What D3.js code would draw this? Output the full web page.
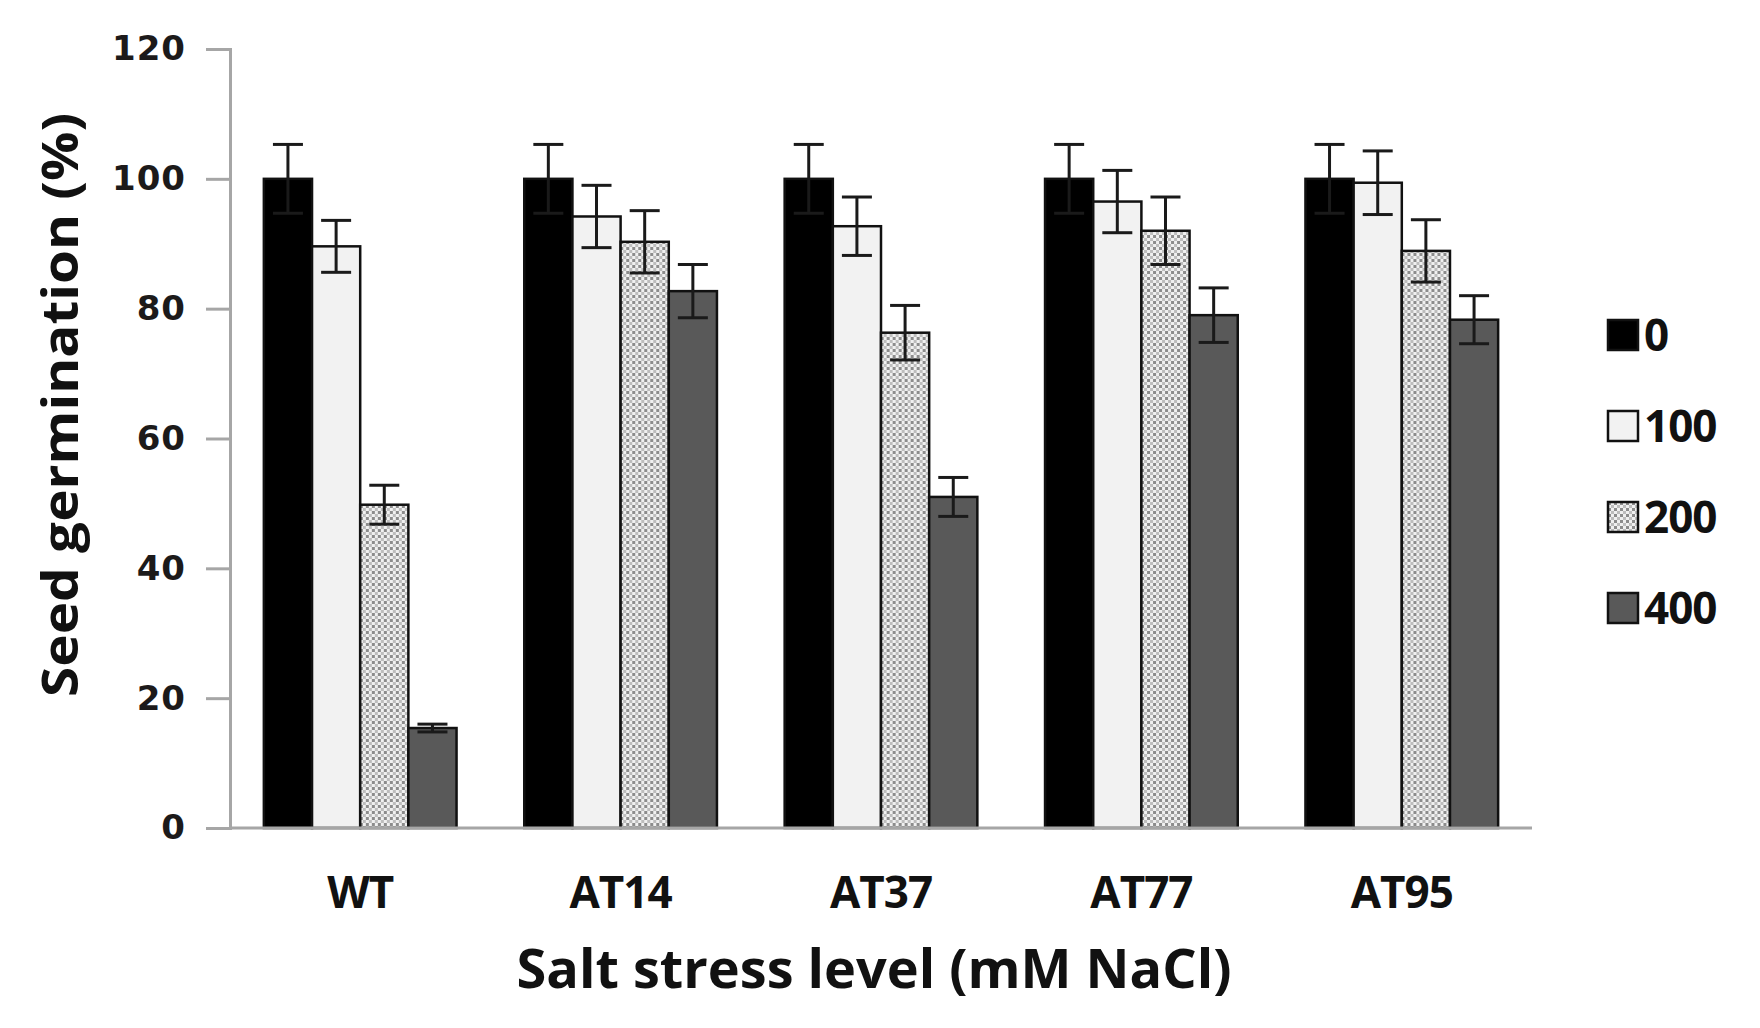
<!DOCTYPE html>
<html>
<head>
<meta charset="utf-8">
<script src="https://cdn.jsdelivr.net/npm/d3@7"></script>
<style>
  body { margin: 0; background: #fff; }
  svg { display: block; }
</style>
</head>
<body>
<svg id="chart" width="1760" height="1028"></svg>
<script>
// donnees
var lines = ["WT", "AT14", "AT37", "AT77", "AT95"];
var levels = ["0", "100", "200", "400"];
var val0   = [100, 100, 100, 100, 100];
var val100 = [89.6, 94.2, 92.7, 96.5, 99.4];
var val200 = [49.8, 90.3, 76.3, 92.0, 88.9];
var val400 = [15.4, 82.7, 51.0, 79.0, 78.3];
var err0   = [5.3, 5.3, 5.3, 5.3, 5.3];
var err100 = [4.0, 4.8, 4.5, 4.8, 4.9];
var err200 = [3.0, 4.8, 4.2, 5.2, 4.8];
var err400 = [0.6, 4.1, 3.0, 4.2, 3.7];
var yTicks = [0, 20, 40, 60, 80, 100, 120];

var values = [val0, val100, val200, val400];
var errors = [err0, err100, err200, err400];

var svg = d3.select("#chart"),
    margin = { top: 49, right: 228, bottom: 200, left: 230 },
    width = +svg.attr("width") - margin.left - margin.right,
    height = +svg.attr("height") - margin.top - margin.bottom;

// motif pointille pour la serie 200
var defs = svg.append("defs");
var pat = defs.append("pattern")
    .attr("id", "dots")
    .attr("patternUnits", "userSpaceOnUse")
    .attr("width", 6).attr("height", 6);
pat.append("rect").attr("width", 6).attr("height", 6).attr("fill", "#f0f0f0");
pat.append("rect").attr("x", 0).attr("y", 0).attr("width", 3).attr("height", 3).attr("fill", "#8c8c8c");
pat.append("rect").attr("x", 3).attr("y", 3).attr("width", 3).attr("height", 3).attr("fill", "#bdbdbd");

var fills = ["#000000", "#f2f2f2", "url(#dots)", "#595959"];

var x0 = d3.scaleBand().domain(lines).range([0, width]).paddingInner(0.26).paddingOuter(0.13);
var x1 = d3.scaleBand().domain(levels).range([0, x0.bandwidth()]);
var y = d3.scaleLinear().domain([0, 120]).range([height, 0]);

var g = svg.append("g")
    .attr("transform", "translate(" + margin.left + "," + margin.top + ")");

// axe y
var yAxis = g.append("g")
    .call(d3.axisLeft(y).tickValues(yTicks).tickSize(24).tickPadding(20));
yAxis.select(".domain").attr("stroke", "#a6a6a6").attr("stroke-width", 3);
yAxis.selectAll(".tick line").attr("stroke", "#a6a6a6").attr("stroke-width", 3);
yAxis.selectAll(".tick text")
    .attr("fill", "#1c1a1a")
    .style("font-family", "DejaVu Sans")
    .style("font-weight", "bold")
    .style("font-size", "34px")
    .style("letter-spacing", "1px");

// barres
var groups = g.selectAll(".grp")
    .data(lines)
    .enter().append("g")
    .attr("class", "grp")
    .attr("transform", function (d) { return "translate(" + x0(d) + ",0)"; });

levels.forEach(function (lev, k) {
    groups.append("rect")
        .attr("x", x1(lev))
        .attr("width", x1.bandwidth())
        .attr("y", function (d, i) { return y(values[k][i]); })
        .attr("height", function (d, i) { return height - y(values[k][i]); })
        .attr("fill", fills[k])
        .attr("stroke", "#111")
        .attr("stroke-width", 2.5);
});

// barres d'erreur
levels.forEach(function (lev, k) {
    var cx = x1(lev) + x1.bandwidth() / 2;
    var eb = groups.append("g").attr("stroke", "#1a1a1a").attr("stroke-width", 3);
    eb.append("line")
        .attr("x1", cx).attr("x2", cx)
        .attr("y1", function (d, i) { return y(values[k][i] + errors[k][i]); })
        .attr("y2", function (d, i) { return y(values[k][i] - errors[k][i]); });
    [1, -1].forEach(function (s) {
        eb.append("line")
            .attr("x1", cx - 15).attr("x2", cx + 15)
            .attr("y1", function (d, i) { return y(values[k][i] + s * errors[k][i]); })
            .attr("y2", function (d, i) { return y(values[k][i] + s * errors[k][i]); });
    });
});

// axe x
g.append("line")
    .attr("x1", 0).attr("x2", width)
    .attr("y1", height).attr("y2", height)
    .attr("stroke", "#a6a6a6").attr("stroke-width", 3);

g.selectAll(".xlab")
    .data(lines)
    .enter().append("text")
    .attr("class", "xlab")
    .attr("x", function (d) { return x0(d) + x0.bandwidth() / 2; })
    .attr("y", height + 80)
    .attr("text-anchor", "middle")
    .attr("fill", "#111")
    .style("font-family", "Open Sans")
    .style("font-weight", "bold")
    .style("font-size", "44px")
    .style("letter-spacing", "-1px")
    .text(function (d) { return d; });

// titres des axes
g.append("text")
    .attr("x", 874 - margin.left)
    .attr("y", height + 160)
    .attr("text-anchor", "middle")
    .attr("fill", "#111")
    .attr("textLength", 715)
    .attr("lengthAdjust", "spacingAndGlyphs")
    .style("font-family", "Open Sans")
    .style("font-weight", "bold")
    .style("font-size", "54px")
    .text("Salt stress level (mM NaCl)");

svg.append("text")
    .attr("transform", "translate(78,405) rotate(-90)")
    .attr("text-anchor", "middle")
    .attr("fill", "#111")
    .attr("textLength", 584)
    .attr("lengthAdjust", "spacingAndGlyphs")
    .style("font-family", "Open Sans")
    .style("font-weight", "bold")
    .style("font-size", "50px")
    .text("Seed germination (%)");

// legende
var legend = svg.append("g")
    .attr("transform", "translate(1608,320)");
var li = legend.selectAll(".leg")
    .data(levels)
    .enter().append("g")
    .attr("class", "leg")
    .attr("transform", function (d, i) { return "translate(0," + (i * 91) + ")"; });
li.append("rect")
    .attr("width", 30).attr("height", 30)
    .attr("fill", function (d, i) { return fills[i]; })
    .attr("stroke", "#111").attr("stroke-width", 2.5);
li.append("text")
    .attr("x", 36).attr("y", 31)
    .attr("fill", "#111")
    .style("font-family", "Open Sans")
    .style("font-weight", "bold")
    .style("font-size", "44px")
    .style("letter-spacing", "-1px")
    .text(function (d) { return d; });
</script>
</body>
</html>
